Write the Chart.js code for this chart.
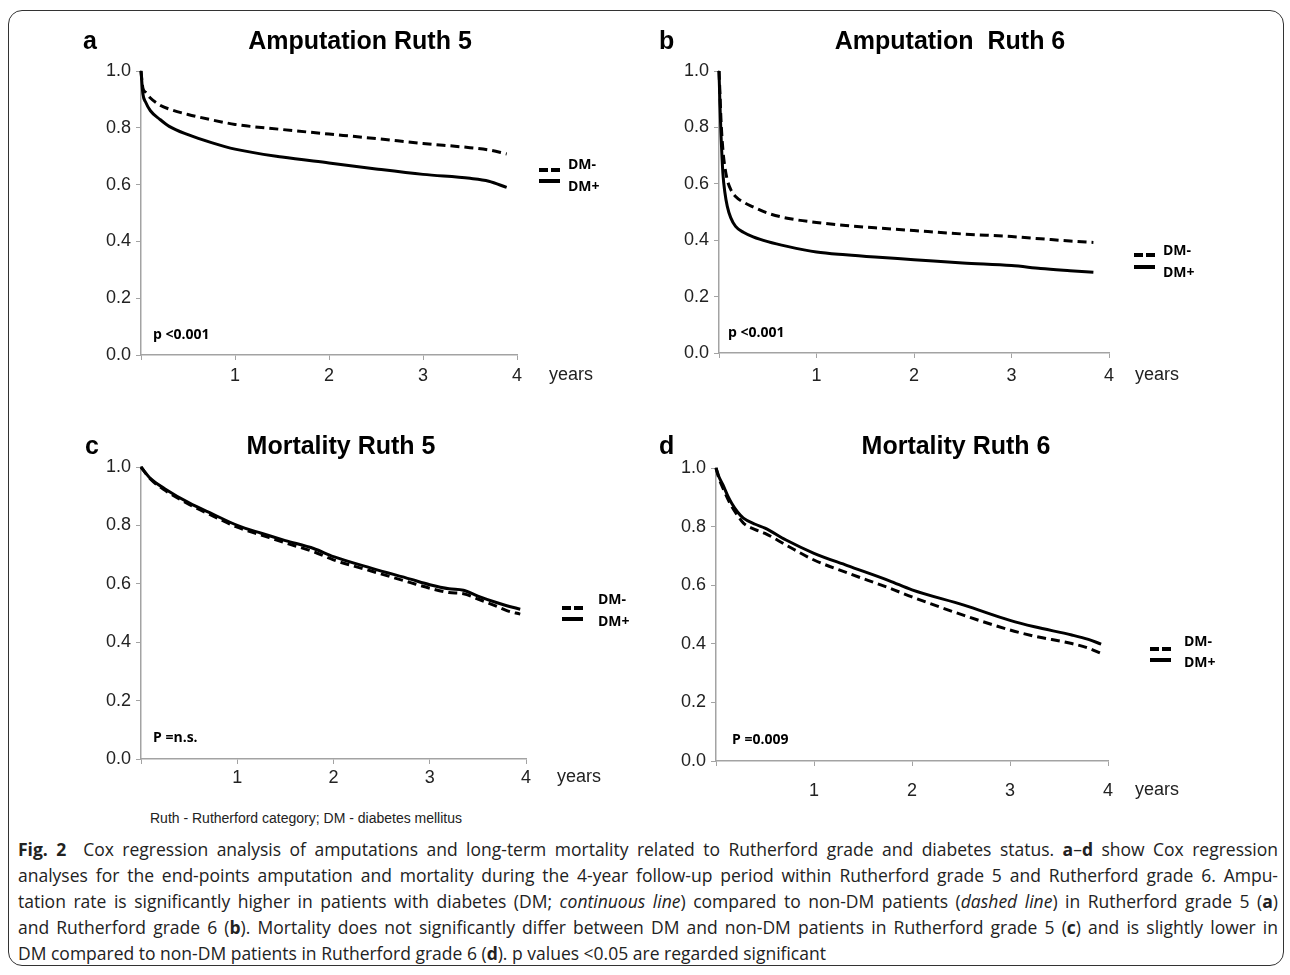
<!DOCTYPE html>
<html>
<head>
<meta charset="UTF-8">
<title>Cox regression – amputation and mortality</title>
<script src="https://cdn.jsdelivr.net/npm/chart.js"></script>
<style>
  html, body { margin: 0; padding: 0; background: #fff; }
  body { width: 1290px; height: 975px; position: relative; overflow: hidden; }
  canvas { position: absolute; }
  #frame {
    position: absolute; left: 8px; top: 10px; width: 1274px; height: 954px;
    border: 1.5px solid #333; border-radius: 14px; pointer-events: none;
  }
  #abbr {
    position: absolute; left: 150px; top: 810px;
    font: 14px "Liberation Sans", Arial, sans-serif; color: #222;
  }
  #caption {
    position: absolute; left: 18px; top: 836px; width: 1260px;
    font-family: "Open Sans", sans-serif; font-size: 17.5px; line-height: 26px; color: #222;
    transform-origin: 0 0;
  }
  #caption div { white-space: nowrap; text-align: justify; text-align-last: justify; }
  #caption div.last { text-align-last: left; }
</style>
</head>
<body>
<div id="frame"></div>
<canvas id="panelA" width="645" height="400" style="left:0;top:0"></canvas>
<canvas id="panelB" width="645" height="400" style="left:645px;top:0"></canvas>
<canvas id="panelC" width="645" height="410" style="left:0;top:400px"></canvas>
<canvas id="panelD" width="645" height="410" style="left:645px;top:400px"></canvas>

<div id="abbr">Ruth - Rutherford category; DM - diabetes mellitus</div>
<div id="caption">
  <div><b>Fig. 2</b>&nbsp; Cox regression analysis of amputations and long-term mortality related to Rutherford grade and diabetes status. <b>a</b>–<b>d</b> show Cox regression</div>
  <div>analyses for the end-points amputation and mortality during the 4-year follow-up period within Rutherford grade 5 and Rutherford grade 6. Ampu-</div>
  <div>tation rate is significantly higher in patients with diabetes (DM; <i>continuous line</i>) compared to non-DM patients (<i>dashed line</i>) in Rutherford grade 5 (<b>a</b>)</div>
  <div>and Rutherford grade 6 (<b>b</b>). Mortality does not significantly differ between DM and non-DM patients in Rutherford grade 5 (<b>c</b>) and is slightly lower in</div>
  <div class="last">DM compared to non-DM patients in Rutherford grade 6 (<b>d</b>). p values &lt;0.05 are regarded significant</div>
</div>

<script>
// ---- data (years of follow-up, survival fraction) ----
const yTicks = [0, 0.2, 0.4, 0.6, 0.8, 1.0];
const xTicks = [0, 1, 2, 3, 4];

// a: Amputation Ruth 5
const ampR5Years   = [0, 0.02, 0.05, 0.1, 0.2, 0.3, 0.5, 0.75, 1, 1.5, 2, 2.5, 3, 3.5, 3.7, 3.89];
const ampR5DMminus = [1.0, 0.94, 0.925, 0.905, 0.88, 0.866, 0.847, 0.828, 0.812, 0.794, 0.778, 0.762, 0.745, 0.73, 0.722, 0.708];
const ampR5DMplus  = [1.0, 0.92, 0.89, 0.86, 0.83, 0.805, 0.776, 0.748, 0.725, 0.697, 0.676, 0.655, 0.636, 0.622, 0.612, 0.59];

// b: Amputation Ruth 6
const ampR6Years   = [0, 0.01, 0.02, 0.04, 0.06, 0.085, 0.12, 0.17, 0.25, 0.35, 0.5, 0.7, 1, 1.3, 1.6, 2, 2.5, 3, 3.3, 3.6, 3.84];
const ampR6DMminus = [1.0, 0.92, 0.83, 0.72, 0.66, 0.614, 0.58, 0.555, 0.535, 0.518, 0.496, 0.478, 0.463, 0.452, 0.444, 0.434, 0.422, 0.413, 0.405, 0.397, 0.392];
const ampR6DMplus  = [1.0, 0.88, 0.78, 0.637, 0.57, 0.52, 0.48, 0.449, 0.428, 0.412, 0.395, 0.378, 0.358, 0.348, 0.34, 0.331, 0.319, 0.31, 0.3, 0.292, 0.286];

// c: Mortality Ruth 5
const morR5Years   = [0, 0.1, 0.25, 0.5, 0.75, 1, 1.25, 1.5, 1.8, 2, 2.4, 2.8, 3, 3.2, 3.35, 3.5, 3.7, 3.8, 3.94];
const morR5DMminus = [1.0, 0.958, 0.92, 0.872, 0.832, 0.794, 0.767, 0.74, 0.709, 0.682, 0.643, 0.604, 0.585, 0.57, 0.566, 0.548, 0.522, 0.508, 0.496];
const morR5DMplus  = [1.0, 0.96, 0.925, 0.877, 0.838, 0.80, 0.773, 0.748, 0.72, 0.693, 0.653, 0.616, 0.597, 0.583, 0.578, 0.558, 0.535, 0.525, 0.513];

// d: Mortality Ruth 6
const morR6Years   = [0, 0.03, 0.07, 0.12, 0.16, 0.22, 0.28, 0.4, 0.5, 0.71, 1, 1.34, 1.77, 2, 2.53, 3, 3.25, 3.63, 3.8, 3.93];
const morR6DMminus = [1.0, 0.965, 0.932, 0.895, 0.869, 0.838, 0.812, 0.79, 0.777, 0.738, 0.686, 0.642, 0.59, 0.56, 0.497, 0.447, 0.426, 0.401, 0.385, 0.367];
const morR6DMplus  = [1.0, 0.97, 0.943, 0.905, 0.88, 0.85, 0.829, 0.808, 0.795, 0.755, 0.709, 0.667, 0.615, 0.584, 0.532, 0.48, 0.458, 0.43, 0.415, 0.399];

const seriesNames = ['DM-', 'DM+'];

// ---- drawing ----
const AXIS_GREY = '#a3a3a3';
const TICK_FONT = { family: '"Liberation Sans", Arial, sans-serif', size: 18 };

// letter, title, p value, legend and "years" label
const panelDecor = {
  id: 'panelDecor',
  afterDraw(chart, args, o) {
    const ctx = chart.ctx;
    const dx = o.box.x, dy = o.box.y;
    ctx.save();
    ctx.fillStyle = '#000';
    ctx.textBaseline = 'middle';

    ctx.font = 'bold 25px "Liberation Sans", Arial, sans-serif';
    ctx.textAlign = 'left';
    ctx.fillText(o.letter, o.letterPos[0] - dx, o.letterPos[1] - dy);
    ctx.textAlign = 'center';
    ctx.fillText(o.title, o.titlePos[0] - dx, o.titlePos[1] - dy);

    ctx.textAlign = 'left';
    ctx.font = 'bold 14px "Open Sans", sans-serif';
    ctx.fillText(o.pText, o.pPos[0] - dx, o.pPos[1] - dy);

    ctx.fillStyle = '#222';
    ctx.font = '18px "Liberation Sans", Arial, sans-serif';
    ctx.fillText('years', o.yearsPos[0] - dx, o.yearsPos[1] - dy);

    // legend: short line samples + labels
    const lx = o.legend.x - dx;
    ctx.strokeStyle = '#000';
    ctx.lineWidth = 4;
    o.legend.rows.forEach((row, i) => {
      ctx.setLineDash(i === 0 ? [9, 3] : []);
      ctx.beginPath();
      ctx.moveTo(lx, row.lineY - dy);
      ctx.lineTo(lx + 21, row.lineY - dy);
      ctx.stroke();
    });
    ctx.setLineDash([]);
    ctx.fillStyle = '#000';
    ctx.font = 'bold 14px "Open Sans", sans-serif';
    o.legend.rows.forEach((row, i) => {
      ctx.fillText(seriesNames[i], o.legend.textX - dx, row.textY - dy);
    });
    ctx.restore();
  }
};

function pts(xs, ys) {
  return xs.map((x, i) => ({ x: x, y: ys[i] }));
}

function makePanel(id, p) {
  const yAxisW = 50, xAxisH = 40;
  const pad = {
    left: p.area.l - p.box.x - yAxisW,
    right: p.box.x + p.box.w - p.area.r,
    top: p.area.t - p.box.y,
    bottom: p.box.y + p.box.h - p.area.b - xAxisH
  };
  const lineDs = (label, data, dashed) => ({
    label: label,
    data: data,
    borderColor: '#000',
    borderWidth: 3,
    borderDash: dashed ? [9, 5] : [],
    pointRadius: 0,
    cubicInterpolationMode: 'monotone',
    clip: 8
  });
  new Chart(document.getElementById(id), {
    type: 'line',
    data: {
      datasets: [
        lineDs(seriesNames[0], pts(p.years, p.minus), true),
        lineDs(seriesNames[1], pts(p.years, p.plus), false)
      ]
    },
    options: {
      responsive: false,
      animation: false,
      layout: { padding: pad },
      plugins: {
        legend: { display: false },
        tooltip: { enabled: false },
        panelDecor: p.decor
      },
      scales: {
        x: {
          type: 'linear', min: 0, max: 4,
          afterFit: s => { s.height = xAxisH; },
          afterBuildTicks: s => { s.ticks = xTicks.map(v => ({ value: v })); },
          border: { display: true, color: AXIS_GREY, width: 1.5 },
          grid: { drawOnChartArea: false, drawTicks: true, tickLength: 5, color: AXIS_GREY },
          ticks: {
            color: '#222', font: TICK_FONT, padding: p.xPad, maxRotation: 0, autoSkip: false,
            callback: v => (v === 0 ? '' : String(v))
          }
        },
        y: {
          type: 'linear', min: 0, max: 1,
          afterFit: s => { s.width = yAxisW; },
          afterBuildTicks: s => { s.ticks = yTicks.map(v => ({ value: v })); },
          border: { display: true, color: AXIS_GREY, width: 1.5 },
          grid: { drawOnChartArea: false, drawTicks: true, tickLength: 5, color: AXIS_GREY },
          ticks: {
            color: '#222', font: TICK_FONT, padding: 5, autoSkip: false,
            callback: v => Number(v).toFixed(1)
          }
        }
      }
    },
    plugins: [panelDecor]
  });
}

makePanel('panelA', {
  box: { x: 0, y: 0, w: 645, h: 400 },
  area: { l: 141, r: 517, t: 71, b: 355 },
  xPad: 5,
  years: ampR5Years, minus: ampR5DMminus, plus: ampR5DMplus,
  decor: {
    box: { x: 0, y: 0 },
    letter: 'a', letterPos: [83, 42],
    title: 'Amputation Ruth 5', titlePos: [360, 42],
    pText: 'p <0.001', pPos: [153, 335],
    yearsPos: [549, 375],
    legend: { x: 539, textX: 568, rows: [{ lineY: 170, textY: 165 }, { lineY: 181, textY: 187 }] }
  }
});

makePanel('panelB', {
  box: { x: 645, y: 0, w: 645, h: 400 },
  area: { l: 719, r: 1109, t: 71, b: 353 },
  xPad: 7,
  years: ampR6Years, minus: ampR6DMminus, plus: ampR6DMplus,
  decor: {
    box: { x: 645, y: 0 },
    letter: 'b', letterPos: [659, 42],
    title: 'Amputation  Ruth 6', titlePos: [950, 42],
    pText: 'p <0.001', pPos: [728, 333],
    yearsPos: [1135, 375],
    legend: { x: 1134, textX: 1163, rows: [{ lineY: 255, textY: 251 }, { lineY: 267, textY: 273 }] }
  }
});

makePanel('panelC', {
  box: { x: 0, y: 400, w: 645, h: 410 },
  area: { l: 141, r: 526, t: 467, b: 759 },
  xPad: 3,
  years: morR5Years, minus: morR5DMminus, plus: morR5DMplus,
  decor: {
    box: { x: 0, y: 400 },
    letter: 'c', letterPos: [85, 447],
    title: 'Mortality Ruth 5', titlePos: [341, 447],
    pText: 'P =n.s.', pPos: [153, 738],
    yearsPos: [557, 777],
    legend: { x: 562, textX: 598, rows: [{ lineY: 608, textY: 600 }, { lineY: 619, textY: 622 }] }
  }
});

makePanel('panelD', {
  box: { x: 645, y: 400, w: 645, h: 410 },
  area: { l: 716, r: 1108, t: 468, b: 761 },
  xPad: 14,
  years: morR6Years, minus: morR6DMminus, plus: morR6DMplus,
  decor: {
    box: { x: 645, y: 400 },
    letter: 'd', letterPos: [659, 447],
    title: 'Mortality Ruth 6', titlePos: [956, 447],
    pText: 'P =0.009', pPos: [732, 740],
    yearsPos: [1135, 790],
    legend: { x: 1150, textX: 1184, rows: [{ lineY: 649, textY: 642 }, { lineY: 660, textY: 663 }] }
  }
});

// the caption face is condensed: squeeze the block horizontally so the
// longest line fits the 1260px column, then justify inside it
(function fitCaption() {
  const cap = document.getElementById('caption');
  const lines = Array.from(cap.querySelectorAll('div'));
  const natural = lines.slice(0, 4).map(d => {
    const s = document.createElement('span');
    s.innerHTML = d.innerHTML;
    s.style.whiteSpace = 'nowrap';
    cap.appendChild(s);
    const w = s.getBoundingClientRect().width;
    cap.removeChild(s);
    return w;
  });
  const target = 1260;
  const k = Math.min(1, (target - 4) / Math.max(...natural));
  cap.style.width = (target / k) + 'px';
  cap.style.transform = 'scaleX(' + k + ')';
})();
</script>
</body>
</html>
